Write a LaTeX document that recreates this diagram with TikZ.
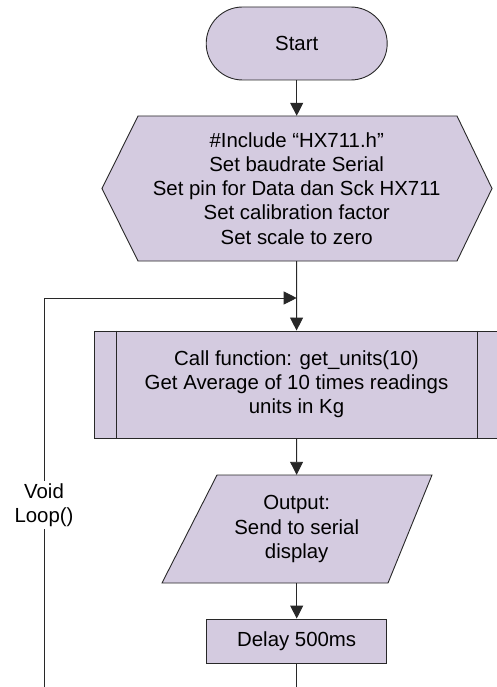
\documentclass[tikz,border=0pt]{standalone}
\usepackage{fontspec}
\setmainfont{Liberation Sans}
\usetikzlibrary{arrows.meta,calc}
\definecolor{boxfill}{RGB}{212,203,224}
\definecolor{linec}{RGB}{40,40,40}
\begin{document}
\begin{tikzpicture}[x=1pt,y=-1pt,
  font=\fontsize{20.4}{24.2}\selectfont,
  shapebox/.style={draw=linec,fill=boxfill,line width=0.9pt},
  txt/.style={align=center,inner sep=0pt},
  conn/.style={draw=linec,line width=0.9pt},
  arr/.style={conn,-{Triangle[length=13pt,width=13pt]}}]
\useasboundingbox (0,0) rectangle (496,687);
% Start
\node[shapebox,rounded corners=36.5pt,minimum width=181pt,minimum height=73pt,inner sep=0pt] (start) at (296.7,43.5) {Start};
% Init hexagon
\path[shapebox] (138,116) -- (457,116) -- (492,188.5) -- (457,261) -- (138,261) -- (102,188.5) -- cycle;
\node[txt,minimum width=319pt,minimum height=145pt] (init) at (296.7,188.5)
  {\#Include “HX711.h”\\Set baudrate Serial\\Set pin for Data dan Sck HX711\\Set calibration factor\\Set scale to zero};
% Predefined process
\node[shapebox,txt,minimum width=405pt,minimum height=107pt] (proc) at (296.5,384.5)
  {Call function: get\_units(10)\\Get Average of 10 times readings\\units in Kg};
\draw[conn] ($(proc.north west)+(23,0)$) -- ($(proc.south west)+(23,0)$);
\draw[conn] ($(proc.north east)+(-22,0)$) -- ($(proc.south east)+(-22,0)$);
% Output parallelogram
\path[shapebox] (217,475) -- (432,475) -- (388,583) -- (162,583) -- cycle;
\node[txt,minimum width=200pt,minimum height=108pt] (out) at (296.7,529)
  {Output:\\Send to serial\\display};
% Delay
\node[shapebox,minimum width=180pt,minimum height=44pt,inner sep=0pt] (delay) at (296.7,641) {Delay 500ms};
% loop coordinates
\coordinate (join) at (296.7,298);
\coordinate (bot) at (296.7,690);
\coordinate (lb) at (44,690);
% connectors
\draw[arr] (start) -- (init);
\draw[arr] (init) -- (proc);
\draw[arr] (proc) -- (out);
\draw[arr] (out) -- (delay);
\draw[conn] (delay) -- (bot);
\draw[arr] (lb) |- (join);
\node[fill=white,txt,inner sep=2pt] (voidlbl) at (44,505) {Void\\Loop()};
\end{tikzpicture}
\end{document}
